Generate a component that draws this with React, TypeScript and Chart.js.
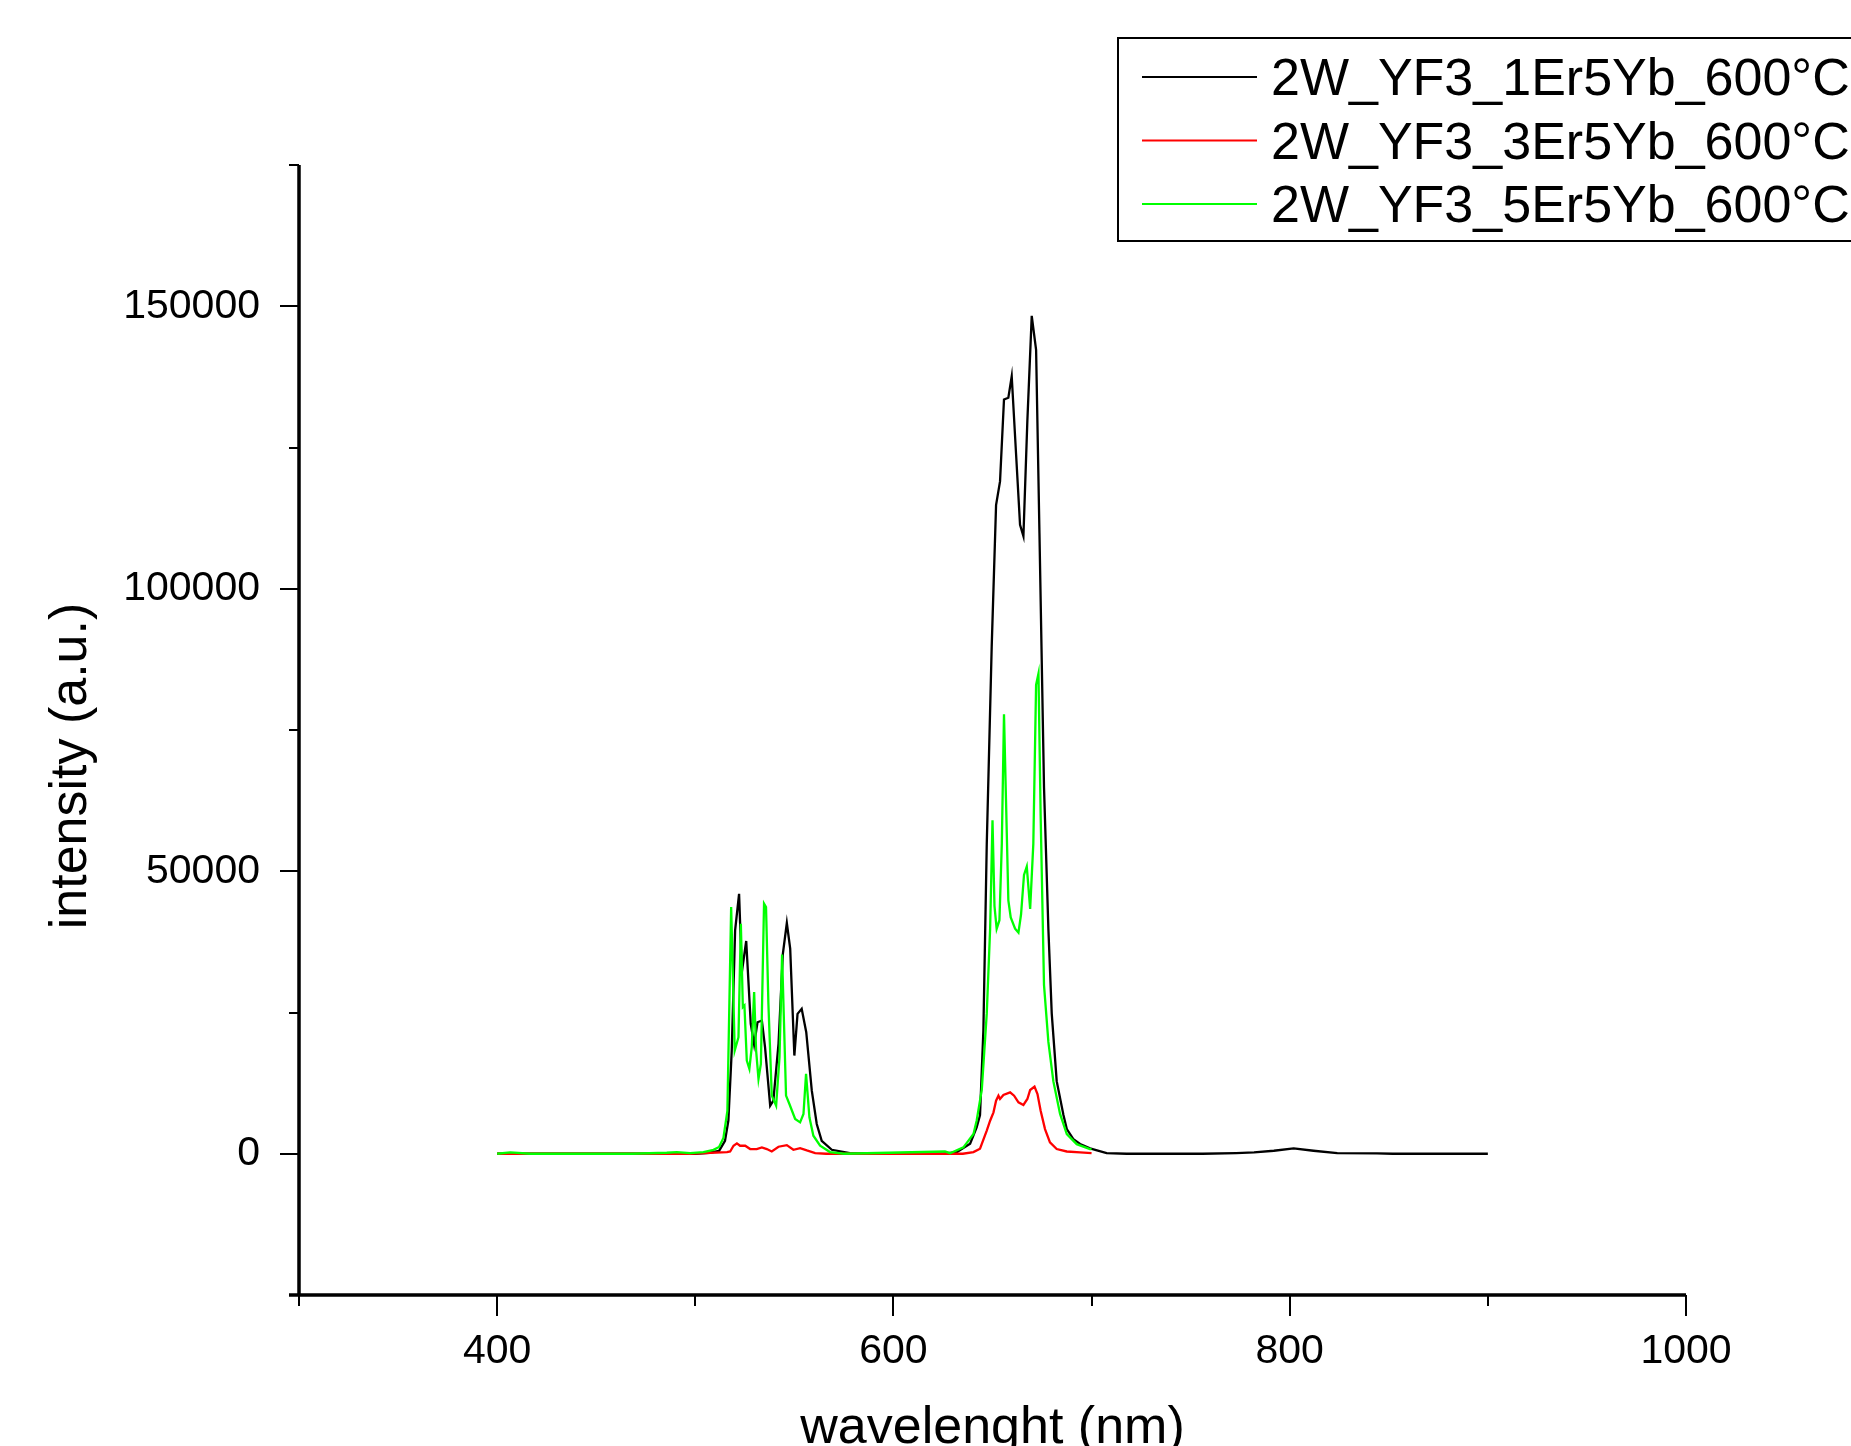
import React, { useEffect, useRef } from "react";
import { Chart, registerables } from "chart.js";

Chart.register(...registerables);

const seriesNames = ["2W_YF3_1Er5Yb_600°C", "2W_YF3_3Er5Yb_600°C", "2W_YF3_5Er5Yb_600°C"];
const seriesColors = ["#000000", "#ff0000", "#00ff00"];

const wl1Er = [400, 470, 500, 507, 512, 515, 516.7, 518.4, 520.1, 522.1, 523.5, 525.7, 528, 529.7, 531.4, 533.6, 535.2, 537.8, 539.4, 542, 544.2, 546.2, 547.9, 550, 551.6, 553.7, 556, 558.8, 561.3, 563.8, 568.9, 578, 590, 625, 632, 638.7, 642, 643.7, 645.4, 647.1, 649.6, 651.8, 653.8, 655.8, 658, 659.7, 661.9, 663.9, 665.6, 667.6, 669.8, 672, 673.7, 676, 678.2, 679.9, 682.4, 685.8, 687.5, 690.8, 694.2, 699.2, 707.6, 717.7, 756, 773, 782, 792, 802, 812, 824, 844, 852, 900];
const int1Er = [0, 0, 0, 180, 500, 2300, 5850, 18260, 39540, 46000, 32150, 37650, 23000, 19330, 23280, 23580, 18860, 8510, 9400, 19450, 35400, 40840, 36290, 17380, 24760, 25650, 21510, 11170, 5260, 2300, 700, 100, 0, 0, 300, 1770, 4670, 6860, 21850, 54800, 89800, 114800, 119000, 133500, 133800, 137600, 123800, 111300, 109300, 129800, 148300, 142300, 109800, 64830, 39800, 24800, 12850, 6860, 4370, 2600, 1720, 950, 120, 0, 0, 120, 240, 530, 950, 530, 120, 60, 0, 0];

const wl3Er = [400, 497, 516, 517.6, 519.3, 521, 522.6, 525.2, 527.7, 531, 533.6, 536.1, 538.6, 542, 546.2, 549.5, 552.9, 556.3, 560.5, 566, 635, 640.4, 643.7, 647.1, 648.8, 650.5, 651.8, 653, 653.8, 655.5, 658.9, 660.9, 663.1, 665.6, 667.6, 669, 671.2, 672.7, 674.3, 676.5, 679, 682.4, 687.5, 694.2, 700];
const int3Er = [0, 0, 300, 400, 1420, 1840, 1420, 1420, 830, 830, 1120, 830, 410, 1240, 1530, 700, 1000, 590, 120, 0, 0, 300, 900, 4100, 5850, 7330, 9400, 10280, 9690, 10400, 10870, 10280, 9100, 8630, 9690, 11290, 11880, 10580, 7620, 4370, 2010, 830, 400, 250, 100];

const wl5Er = [400, 406.6, 416.7, 468, 485.6, 490.7, 497.4, 504.1, 509.2, 512, 514.2, 516.2, 518.1, 519.9, 521.8, 523, 524, 524.8, 526, 527.3, 528.5, 529.7, 530.7, 531.9, 533.1, 534.7, 535.7, 536.9, 538.6, 540.8, 542.5, 543.8, 545.8, 547.5, 550.4, 552.9, 554.6, 555.9, 557.6, 559.6, 563, 568, 575, 626, 628.6, 635.3, 640.4, 642, 644.6, 647.1, 648.8, 650, 651, 652.1, 653.5, 654.7, 655.8, 656.8, 658, 659.2, 661.4, 663.1, 664.4, 665.9, 667.3, 669, 670.6, 672, 673.2, 674.3, 676, 678.2, 680.7, 684.1, 687.5, 692.5, 699.2, 700];
const int5Er = [0, 240, 0, 0, 180, 300, 120, 300, 700, 1200, 2800, 7600, 43680, 18260, 20630, 40720, 25950, 26240, 16490, 15010, 18850, 28610, 18260, 13240, 15900, 44270, 43680, 26540, 10290, 8510, 17080, 35280, 10290, 8810, 6150, 5560, 7030, 14130, 6440, 3190, 1420, 300, 0, 400, 100, 1120, 3490, 5850, 11350, 24800, 39800, 59000, 43840, 39800, 41340, 54840, 77800, 62830, 44840, 41840, 39840, 39140, 42340, 49340, 50840, 43340, 54840, 83000, 85000, 59830, 29850, 19800, 12850, 7040, 3490, 1700, 830, 800];

const xMajorTicks = [400, 600, 800, 1000];
const xMinorTicks = [300, 500, 700, 900];
const yMajorTicks = [0, 50000, 100000, 150000];
const yMinorTicks = [-25000, 25000, 75000, 125000, 175000];
const xTitle = "wavelenght (nm)";
const yTitle = "intensity (a.u.)";

const FONT = '"Liberation Sans", Arial, sans-serif';

const toPoints = (xs: number[], ys: number[]) => xs.map((x, i) => ({ x, y: ys[i] }));

const framePlugin = {
  id: "frame",
  afterDraw(chart: any) {
    const { ctx, chartArea, scales } = chart;
    const { left, right, top, bottom } = chartArea;
    const x = scales.x;
    const y = scales.y;
    ctx.save();
    ctx.strokeStyle = "#000";
    ctx.lineWidth = 2;
    ctx.beginPath();
    xMajorTicks.forEach((v) => {
      const p = Math.round(x.getPixelForValue(v));
      ctx.moveTo(p, bottom);
      ctx.lineTo(p, bottom + 21);
    });
    xMinorTicks.forEach((v) => {
      const p = Math.round(x.getPixelForValue(v));
      ctx.moveTo(p, bottom);
      ctx.lineTo(p, bottom + 11);
    });
    yMajorTicks.forEach((v) => {
      const p = Math.round(y.getPixelForValue(v));
      ctx.moveTo(left, p);
      ctx.lineTo(left - 19, p);
    });
    yMinorTicks.forEach((v) => {
      const p = Math.round(y.getPixelForValue(v));
      ctx.moveTo(left, p);
      ctx.lineTo(left - 10, p);
    });
    ctx.stroke();

    ctx.lineWidth = 3.5;
    ctx.beginPath();
    ctx.moveTo(left, top);
    ctx.lineTo(left, bottom);
    ctx.moveTo(left - 10, bottom);
    ctx.lineTo(right, bottom);
    ctx.stroke();

    ctx.fillStyle = "#000";
    ctx.font = `52px ${FONT}`;
    ctx.textAlign = "center";
    ctx.textBaseline = "alphabetic";
    ctx.fillText(xTitle, (left + right) / 2, 1443);
    ctx.save();
    ctx.translate(86, 766);
    ctx.rotate(-Math.PI / 2);
    ctx.fillText(yTitle, 0, 0);
    ctx.restore();

    // legend
    ctx.lineWidth = 2;
    ctx.strokeRect(1118, 38, 800, 203);
    const rows = [77, 140.5, 204];
    ctx.font = `52px ${FONT}`;
    ctx.textAlign = "left";
    rows.forEach((ry, i) => {
      ctx.strokeStyle = seriesColors[i];
      ctx.lineWidth = 2;
      ctx.beginPath();
      ctx.moveTo(1142, ry);
      ctx.lineTo(1257, ry);
      ctx.stroke();
      ctx.fillText(seriesNames[i], 1271, ry + 18);
    });
    ctx.restore();
  },
};

export default function App() {
  const ref = useRef<HTMLCanvasElement | null>(null);
  useEffect(() => {
    if (!ref.current) return;
    const chart = new Chart(ref.current, {
      type: "line",
      data: {
        datasets: [
          { label: seriesNames[0], data: toPoints(wl1Er, int1Er), borderColor: seriesColors[0], order: 2 },
          { label: seriesNames[1], data: toPoints(wl3Er, int3Er), borderColor: seriesColors[1], order: 1 },
          { label: seriesNames[2], data: toPoints(wl5Er, int5Er), borderColor: seriesColors[2], order: 0 },
        ],
      },
      options: {
        responsive: false,
        animation: false,
        devicePixelRatio: 1,
        layout: { padding: { top: 165, right: 165, left: 0, bottom: 0 } },
        elements: {
          line: { borderWidth: 2.3, tension: 0, fill: false },
          point: { radius: 0, hoverRadius: 0 },
        },
        plugins: { legend: { display: false }, tooltip: { enabled: false }, title: { display: false } },
        scales: {
          x: {
            type: "linear",
            min: 300,
            max: 1000,
            grid: { display: false, drawTicks: false },
            border: { display: false },
            afterBuildTicks: (s: any) => {
              s.ticks = xMajorTicks.map((v) => ({ value: v }));
            },
            afterFit: (s: any) => {
              s.height = 151;
            },
            ticks: {
              autoSkip: false,
              maxRotation: 0,
              padding: 32,
              color: "#000",
              font: { family: FONT, size: 41 },
              callback: (v: any) => String(v),
            },
          },
          y: {
            type: "linear",
            min: -25000,
            max: 175000,
            grid: { display: false, drawTicks: false },
            border: { display: false },
            afterBuildTicks: (s: any) => {
              s.ticks = yMajorTicks.map((v) => ({ value: v }));
            },
            afterFit: (s: any) => {
              s.width = 299;
            },
            ticks: {
              autoSkip: false,
              padding: 39,
              color: "#000",
              font: { family: FONT, size: 41 },
              callback: (v: any) => String(v),
            },
          },
        },
      },
      plugins: [framePlugin],
    });
    return () => chart.destroy();
  }, []);
  return (
    <div style={{ position: "absolute", left: 0, top: 0, width: 1851, height: 1446, background: "#fff" }}>
      <canvas ref={ref} width={1851} height={1446} style={{ display: "block", width: 1851, height: 1446 }} />
    </div>
  );
}
